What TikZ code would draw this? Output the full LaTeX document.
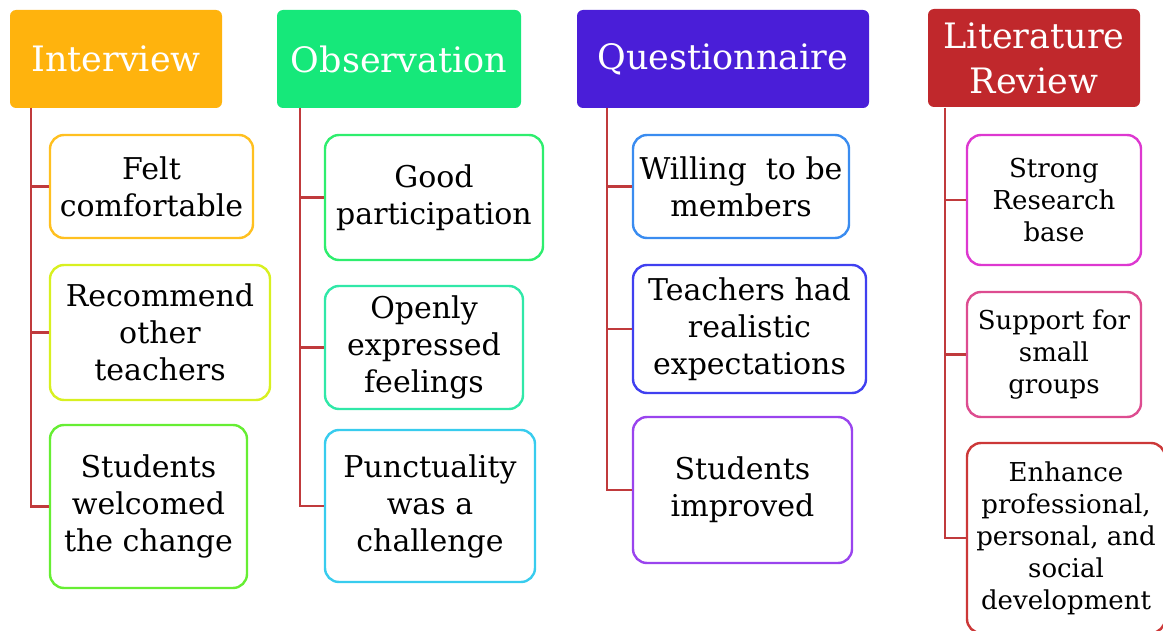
\documentclass[tikz,border=0pt]{standalone}
\usepackage{fontspec}
\setmainfont{DejaVu Serif}
\usepackage{xcolor}
\usetikzlibrary{positioning,calc}
\definecolor{linkred}{HTML}{C03A3C}
\definecolor{ivOrange}{HTML}{FFB30D}
\definecolor{obGreen}{HTML}{16E87A}
\definecolor{quViolet}{HTML}{4A1ED8}
\definecolor{lrRed}{HTML}{C0282C}
\definecolor{ivA}{HTML}{FFC020}
\definecolor{ivB}{HTML}{D8F020}
\definecolor{ivC}{HTML}{66EE33}
\definecolor{obA}{HTML}{2EEE6E}
\definecolor{obB}{HTML}{30E8A8}
\definecolor{obC}{HTML}{38CCEE}
\definecolor{quA}{HTML}{3A8CF0}
\definecolor{quB}{HTML}{4040F0}
\definecolor{quC}{HTML}{9A44EE}
\definecolor{lrA}{HTML}{DD38D0}
\definecolor{lrB}{HTML}{DD4C90}
\definecolor{lrC}{HTML}{CC3838}

\begin{document}
\begin{tikzpicture}[x=0.5pt, y=-0.5pt,
  head/.style={fill=#1, rounded corners=3pt, align=center, text=white, inner sep=2pt, minimum height=49pt, font=\fontsize{17.5}{22.5}\selectfont},
  item/.style={draw=#1, line width=1.2pt, rounded corners=7pt, fill=white, align=center, inner sep=2pt, font=\fontsize{15}{18.5}\selectfont},
  small/.style={font=\fontsize{13}{16}\selectfont},
  link/.style={draw=linkred, line width=1.2pt}]
\useasboundingbox (0,0) rectangle (1163,631);
\node[head=ivOrange, minimum width=106pt] (ih) at (116,59) {Interview};
\node[head=obGreen, minimum width=122pt] (oh) at (399,59) {Observation};
\node[head=quViolet, minimum width=146pt] (qh) at (723,59) {Questionnaire};
\node[head=lrRed, minimum width=106pt] (lh) at (1034,58) {Literature\\Review};
\coordinate (it) at (31,108); \coordinate (ot) at (300,108);
\coordinate (qt) at (607,108); \coordinate (lt) at (945,108);
\node[item=ivA, minimum width=101.5pt, minimum height=51.5pt] (i1) at (151.5,186.5) {Felt\\comfortable};
\node[item=ivB, minimum width=110pt, minimum height=67.5pt] (i2) at (160,332.5) {Recommend\\other\\teachers};
\node[item=ivC, minimum width=98.5pt, minimum height=81.5pt] (i3) at (148.5,506.5) {Students\\welcomed\\the change};
\node[item=obA, minimum width=109pt, minimum height=62.5pt] (o1) at (434,197.5) {Good\\participation};
\node[item=obB, minimum width=99pt, minimum height=61.5pt] (o2) at (424,347.5) {Openly\\expressed\\feelings};
\node[item=obC, minimum width=105pt, minimum height=76pt] (o3) at (430,506) {Punctuality\\was a\\challenge};
\node[item=quA, minimum width=108pt, minimum height=51.5pt] (q1) at (741,186.5) {Willing\ \ to be\\members};
\node[item=quB, minimum width=116.5pt, minimum height=64pt] (q2) at (749.5,329) {Teachers had\\realistic\\expectations};
\node[item=quC, minimum width=109.5pt, minimum height=73pt] (q3) at (742.5,490) {Students\\improved};
\node[item=lrA, small, minimum width=87pt, minimum height=65pt] (l1) at (1054,200) {Strong\\Research\\base};
\node[item=lrB, small, minimum width=87pt, minimum height=62.5pt] (l2) at (1054,354.5) {Support for\\small\\groups};
\node[item=lrC, small, minimum width=99pt, minimum height=95pt] (l3) at (1066,538) {Enhance\\professional,\\personal, and\\social\\development};
\draw[link] (it) |- (i1.west); \draw[link] (it) |- (i2.west); \draw[link] (it) |- (i3.west);
\draw[link] (ot) |- (o1.west); \draw[link] (ot) |- (o2.west); \draw[link] (ot) |- (o3.west);
\draw[link] (qt) |- (q1.west); \draw[link] (qt) |- (q2.west); \draw[link] (qt) |- (q3.west);
\draw[link] (lt) |- (l1.west); \draw[link] (lt) |- (l2.west); \draw[link] (lt) |- (l3.west);
\end{tikzpicture}
\end{document}
